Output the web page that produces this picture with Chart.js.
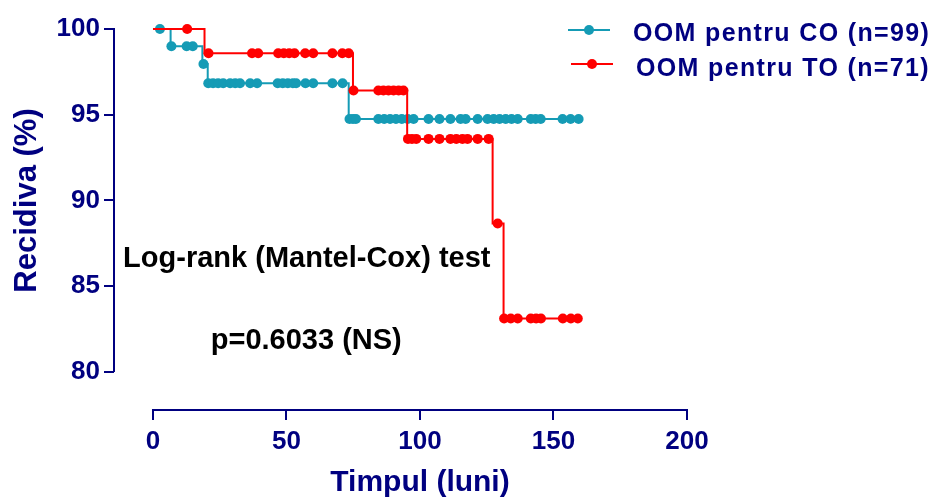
<!DOCTYPE html>
<html>
<head>
<meta charset="utf-8">
<title>Recidiva</title>
<script src="https://cdn.jsdelivr.net/npm/chart.js@4.4.0/dist/chart.umd.min.js"></script>
<style>
    html, body { margin: 0; padding: 0; background: #ffffff; }
    #wrap { width: 934px; height: 497px; }
</style>
</head>
<body>
<div id="wrap"><canvas id="kmChart" width="934" height="497"></canvas></div>
<script>
// Kaplan-Meier steps: time of each drop and the percentage after it
var coEventTimes = [0, 6.6, 18.5, 20.5, 73.3];
var coEventSurv = [100, 98.99, 97.96, 96.84, 94.75];
var coEndTime = 160;
var coCensorTimes = [2.6, 6.9, 12.6, 14.9, 18.9,
    20.7, 22.5, 24.4, 26.3, 28.9, 30.8, 32.6, 36.4, 39.0, 46.7, 48.6, 50.5, 52.4, 53.6, 57.1, 60.0, 67.2, 71.0,
    73.6, 74.9, 76.0, 84.4, 86.6, 88.8, 91.0, 93.2, 95.4, 97.6, 103.2, 107.3, 111.4, 115.2, 117.1, 121.6,
    125.3, 127.6, 129.8, 132.1, 134.3, 136.6, 141.5, 143.3, 145.2, 153.4, 156.4, 159.4];

var toEventTimes = [0, 19.3, 74.9, 95.2, 127.2, 131.3];
var toEventSurv = [100, 98.59, 96.41, 93.59, 88.66, 83.12];
var toEndTime = 160;
var toCensorTimes = [12.8,
    20.8, 37.1, 39.4, 46.9, 49.0, 51.0, 53.0, 57.0, 60.0, 67.2, 70.9, 73.3,
    75.1, 84.4, 86.3, 88.2, 90.1, 92.0, 93.8,
    95.5, 97.0, 98.6, 103.2, 107.3, 111.4, 113.6, 115.9, 117.8, 121.6, 125.7,
    129.1,
    131.5, 134.0, 136.6, 141.5, 143.5, 145.3, 153.5, 156.5, 159.1];

var xTicks = [0, 50, 100, 150, 200];
var yTicks = [80, 85, 90, 95, 100];

var seriesNames = ['OOM pentru CO (n=99)', 'OOM pentru TO (n=71)'];

var navy = '#000080';
var teal = '#159bb5';
var red = '#ff0000';
var fontFamily = '"Liberation Sans", Arial, sans-serif';

// value of the step curve at time t
function survivalAt(times, surv, t) {
    var s = surv[0];
    for (var i = 0; i < times.length; i++) {
        if (times[i] <= t) s = surv[i];
    }
    return s;
}

function stepLine(times, surv, endTime) {
    var pts = times.map(function (t, i) { return { x: t, y: surv[i] }; });
    pts.push({ x: endTime, y: surv[surv.length - 1] });
    return pts;
}

function censorPoints(times, surv, censor) {
    return censor.map(function (t) { return { x: t, y: survivalAt(times, surv, t) }; });
}

// axis lines, legend, axis titles and the test annotation
var figureText = {
    id: 'figureText',
    afterDraw: function (chart) {
        var ctx = chart.ctx;
        var xs = chart.scales.x;
        var ys = chart.scales.y;
        var area = chart.chartArea;
        ctx.save();

        ctx.strokeStyle = navy;
        ctx.lineWidth = 2;
        ctx.beginPath();
        ctx.moveTo(area.left, ys.getPixelForValue(yTicks[0]));
        ctx.lineTo(area.left, ys.getPixelForValue(yTicks[yTicks.length - 1]) - 1);
        ctx.moveTo(xs.getPixelForValue(xTicks[0]) - 1, area.bottom);
        ctx.lineTo(xs.getPixelForValue(xTicks[xTicks.length - 1]) + 1, area.bottom);
        ctx.stroke();

        // axis titles
        ctx.fillStyle = navy;
        ctx.font = 'bold 30px ' + fontFamily;
        ctx.textAlign = 'center';
        ctx.textBaseline = 'alphabetic';
        var xMid = (xs.getPixelForValue(xTicks[0]) + xs.getPixelForValue(xTicks[xTicks.length - 1])) / 2;
        ctx.fillText('Timpul (luni)', xMid, 491);
        var yMid = (ys.getPixelForValue(yTicks[0]) + ys.getPixelForValue(yTicks[yTicks.length - 1])) / 2;
        ctx.save();
        ctx.font = 'bold 31px ' + fontFamily;
        ctx.translate(36, yMid);
        ctx.rotate(-Math.PI / 2);
        ctx.fillText('Recidiva (%)', 0, 0);
        ctx.restore();

        // log-rank result
        ctx.fillStyle = '#000000';
        ctx.font = 'bold 29px ' + fontFamily;
        ctx.fillText('Log-rank (Mantel-Cox) test', xs.getPixelForValue(57.6), ys.getPixelForValue(86.7) + 10);
        ctx.fillText('p=0.6033 (NS)', xs.getPixelForValue(57.4), ys.getPixelForValue(81.9) + 10);

        // legend
        var rows = [
            { color: teal, lineX: 568, textX: 633, y: 30, baseline: 41 },
            { color: red, lineX: 571, textX: 636, y: 64, baseline: 76 }
        ];
        ctx.textAlign = 'left';
        ctx.font = 'bold 25px ' + fontFamily;
        ctx.letterSpacing = '1.35px';
        rows.forEach(function (r, i) {
            ctx.strokeStyle = r.color;
            ctx.lineWidth = 2;
            ctx.beginPath();
            ctx.moveTo(r.lineX, r.y);
            ctx.lineTo(r.lineX + 42, r.y);
            ctx.stroke();
            ctx.fillStyle = r.color;
            ctx.beginPath();
            ctx.arc(r.lineX + 21, r.y, 5, 0, Math.PI * 2);
            ctx.fill();
            ctx.fillStyle = navy;
            ctx.fillText(seriesNames[i], r.textX, r.baseline);
        });
        ctx.restore();
    }
};

var ctxKm = document.getElementById('kmChart').getContext('2d');
var kmChart = new Chart(ctxKm, {
    type: 'line',
    data: {
        datasets: [{
            label: seriesNames[1],
            data: censorPoints(toEventTimes, toEventSurv, toCensorTimes),
            showLine: false,
            pointRadius: 5,
            pointBorderWidth: 0,
            pointBackgroundColor: red,
            clip: false,
            order: 1
        }, {
            label: seriesNames[1],
            data: stepLine(toEventTimes, toEventSurv, toEndTime),
            stepped: 'before',
            borderColor: red,
            borderWidth: 2,
            pointRadius: 0,
            clip: false,
            order: 2
        }, {
            label: seriesNames[0],
            data: censorPoints(coEventTimes, coEventSurv, coCensorTimes),
            showLine: false,
            pointRadius: 5,
            pointBorderWidth: 0,
            pointBackgroundColor: teal,
            clip: false,
            order: 3
        }, {
            label: seriesNames[0],
            data: stepLine(coEventTimes, coEventSurv, coEndTime),
            stepped: 'before',
            borderColor: teal,
            borderWidth: 2,
            pointRadius: 0,
            clip: false,
            order: 4
        }]
    },
    options: {
        responsive: false,
        animation: false,
        layout: {
            padding: { top: 29, right: 247, left: 0, bottom: 0 }
        },
        plugins: {
            legend: { display: false },
            tooltip: { enabled: false }
        },
        scales: {
            x: {
                type: 'linear',
                min: -14.6,
                max: 200,
                afterBuildTicks: function (scale) {
                    scale.ticks = xTicks.map(function (v) { return { value: v }; });
                },
                afterFit: function (scale) {
                    scale.height = 87;
                },
                border: { display: false },
                grid: {
                    drawOnChartArea: false,
                    drawTicks: true,
                    tickLength: 10,
                    color: navy,
                    lineWidth: 2
                },
                ticks: {
                    color: navy,
                    padding: 6,
                    maxRotation: 0,
                    font: { family: fontFamily, size: 26, weight: 'bold' }
                }
            },
            y: {
                type: 'linear',
                min: 77.78,
                max: 100,
                afterBuildTicks: function (scale) {
                    scale.ticks = yTicks.map(function (v) { return { value: v }; });
                },
                afterFit: function (scale) {
                    scale.width = 114;
                },
                border: { display: false },
                grid: {
                    drawOnChartArea: false,
                    drawTicks: true,
                    tickLength: 10,
                    color: navy,
                    lineWidth: 2
                },
                ticks: {
                    color: navy,
                    padding: 4,
                    font: { family: fontFamily, size: 26, weight: 'bold' }
                }
            }
        }
    },
    plugins: [figureText]
});
</script>
</body>
</html>
